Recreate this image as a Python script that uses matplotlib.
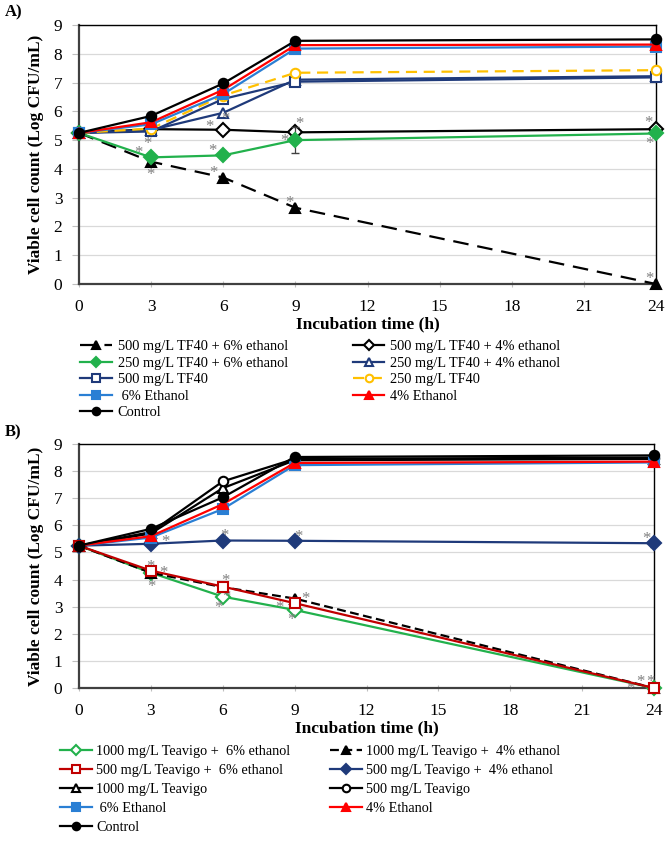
import matplotlib
matplotlib.use("Agg")
import matplotlib.pyplot as plt

plt.rcParams['font.family'] = ['Liberation Serif', 'DejaVu Serif']

# incubation times (h)
hours = [0, 3, 6, 9, 24]

# ---- Panel A: TF40 ----
a_500_6 = [5.25, 4.25, 3.70, 2.65, 0.0]
a_500_4 = [5.25, 5.38, 5.36, 5.27, 5.38]
a_250_6 = [5.25, 4.40, 4.47, 5.00, 5.23]
a_250_4 = [5.25, 5.35, 5.95, 7.10, 7.22]
a_500 = [5.25, 5.30, 6.43, 7.03, 7.18]
a_250 = [5.25, 5.40, 6.55, 7.34, 7.43]
a_eth6 = [5.25, 5.55, 6.60, 8.18, 8.25]
a_eth4 = [5.25, 5.62, 6.75, 8.30, 8.32]
a_ctrl = [5.25, 5.84, 6.97, 8.45, 8.50]
a_250_6_err = [0, 0, 0, 0.46, 0]

a_stars_x = [2.86, 2.48, 2.98, 5.41, 6.10, 5.56, 5.59, 9.15, 8.53, 8.75, 23.68, 23.73, 23.73]
a_stars_y = [4.86, 4.54, 3.78, 5.46, 5.72, 4.63, 3.87, 5.55, 4.98, 2.80, 5.61, 4.85, 0.16]

# ---- Panel B: Teavigo ----
b_1000_6 = [5.25, 4.25, 3.37, 2.88, 0.0]
b_1000_4 = [5.25, 4.25, 3.72, 3.30, 0.0]
b_500_6 = [5.25, 4.33, 3.74, 3.13, 0.0]
b_500_4 = [5.25, 5.32, 5.44, 5.43, 5.34]
b_1000 = [5.25, 5.70, 7.37, 8.40, 8.45]
b_500 = [5.25, 5.75, 7.62, 8.45, 8.50]
b_eth6 = [5.25, 5.55, 6.60, 8.22, 8.32]
b_eth4 = [5.25, 5.60, 6.78, 8.30, 8.35]
b_ctrl = [5.25, 5.87, 7.03, 8.52, 8.58]
b_500_4_err = [0, 0, 0, 0, 0.15]

b_stars_x = [3.59, 2.96, 3.52, 3.03, 6.06, 6.13, 6.16, 5.82, 9.15, 9.43, 8.36, 8.87, 23.69, 23.44, 23.83, 23.0]
b_stars_y = [5.40, 4.48, 4.26, 3.74, 5.62, 3.95, 3.37, 2.94, 5.56, 3.27, 2.94, 2.51, 5.49, 0.23, 0.23, -0.05]

GREEN = '#22b14c'
NAVY = '#1f3a7a'
BLUE = '#2a7fd4'
RED = '#ff0000'
DARKRED = '#c00000'
YELLOW = '#ffc000'

W, H = 672, 863
fig = plt.figure(figsize=(W / 100, H / 100), dpi=100)


def style_axes(ax):
    ax.set_xlim(0, 24)
    ax.set_ylim(0, 9)
    ax.set_xticks(range(0, 25, 3))
    ax.set_yticks(range(0, 10))
    ax.grid(axis='y', color='#d9d9d9', lw=0.9)
    ax.set_axisbelow(True)
    for s in ['top', 'right']:
        ax.spines[s].set_color('black')
        ax.spines[s].set_linewidth(1.0)
    for s in ['left', 'bottom']:
        ax.spines[s].set_color('#404040')
        ax.spines[s].set_linewidth(1.6)
    ax.tick_params(axis='y', length=5, color='#bfbfbf', labelsize=12.5, pad=7)
    ax.tick_params(axis='x', length=4, color='#bfbfbf', labelsize=12.5, pad=9, direction='inout')
    ax.set_xlabel('Incubation time (h)', fontsize=12.5, fontweight='bold', labelpad=1)
    ax.set_ylabel('Viable cell count (Log CFU/mL)', fontsize=12.5, fontweight='bold', labelpad=7)


def series(ax, y, color, marker, label, mfc=None, ls='-', yerr=None, z=3):
    mfc = color if mfc is None else mfc
    if yerr is not None:
        ax.errorbar(hours, y, yerr=yerr, fmt='none', ecolor='#404040', elinewidth=0.9, capsize=3, zorder=z)
    line, = ax.plot(hours, y, color=color, ls=ls, lw=1.6, marker=marker, ms=6.8,
                    mfc=mfc, mec=color, mew=1.5, label=label, zorder=z, clip_on=False)
    return line


# ---------- Panel A ----------
axA = fig.add_axes([79 / W, 1 - 284 / H, 577 / W, 259 / H])
style_axes(axA)
hA = {}
hA['500_6'] = series(axA, a_500_6, 'black', '^', '500 mg/L TF40 + 6% ethanol', ls=(0, (7, 4)))
hA['500_4'] = series(axA, a_500_4, 'black', 'D', '500 mg/L TF40 + 4% ethanol', mfc='white')
hA['250_6'] = series(axA, a_250_6, GREEN, 'D', '250 mg/L TF40 + 6% ethanol', yerr=a_250_6_err)
hA['250_4'] = series(axA, a_250_4, NAVY, '^', '250 mg/L TF40 + 4% ethanol', mfc='white')
hA['500'] = series(axA, a_500, NAVY, 's', '500 mg/L TF40', mfc='white')
hA['250'] = series(axA, a_250, YELLOW, 'o', '250 mg/L TF40', mfc='white', ls=(0, (5, 3)))
hA['eth6'] = series(axA, a_eth6, BLUE, 's', ' 6% Ethanol')
hA['eth4'] = series(axA, a_eth4, RED, '^', '4% Ethanol')
hA['ctrl'] = series(axA, a_ctrl, 'black', 'o', 'Control', z=4)
for x, y in zip(a_stars_x, a_stars_y):
    axA.text(x, y, '*', color='#7f7f7f', fontsize=12, ha='center', va='center', clip_on=False)

orderA = ['500_6', '250_6', '500', 'eth6', 'ctrl', '500_4', '250_4', '250', 'eth4']
legA = fig.legend([hA[k] for k in orderA], [hA[k].get_label() for k in orderA],
                  loc='upper left', bbox_to_anchor=(80 / W, 1 - 340 / H), ncol=2,
                  frameon=False, fontsize=10.4, handlelength=2.2, handletextpad=0.4,
                  labelspacing=0.24, columnspacing=4.5, borderpad=0, borderaxespad=0,
                  markerscale=0.8)

fig.text(5 / W, 1 - 12 / H, 'A)', fontsize=12, fontweight='bold', va='center')

# ---------- Panel B ----------
axB = fig.add_axes([79 / W, 1 - 688 / H, 575 / W, 244 / H])
style_axes(axB)
hB = {}
hB['1000_6'] = series(axB, b_1000_6, GREEN, 'D', '1000 mg/L Teavigo +  6% ethanol', mfc='white')
hB['1000_4'] = series(axB, b_1000_4, 'black', '^', '1000 mg/L Teavigo +  4% ethanol', ls=(0, (4, 2)))
hB['500_6'] = series(axB, b_500_6, DARKRED, 's', '500 mg/L Teavigo +  6% ethanol', mfc='white', z=4)
hB['500_4'] = series(axB, b_500_4, NAVY, 'D', '500 mg/L Teavigo +  4% ethanol', yerr=b_500_4_err)
hB['1000'] = series(axB, b_1000, 'black', '^', '1000 mg/L Teavigo', mfc='white')
hB['500'] = series(axB, b_500, 'black', 'o', '500 mg/L Teavigo', mfc='white')
hB['eth6'] = series(axB, b_eth6, BLUE, 's', ' 6% Ethanol')
hB['eth4'] = series(axB, b_eth4, RED, '^', '4% Ethanol')
hB['ctrl'] = series(axB, b_ctrl, 'black', 'o', 'Control', z=4)
for x, y in zip(b_stars_x, b_stars_y):
    axB.text(x, y, '*', color='#7f7f7f', fontsize=12, ha='center', va='center', clip_on=False)

orderB = ['1000_6', '500_6', '1000', 'eth6', 'ctrl', '1000_4', '500_4', '500', 'eth4']
legB = fig.legend([hB[k] for k in orderB], [hB[k].get_label() for k in orderB],
                  loc='upper left', bbox_to_anchor=(60 / W, 1 - 745 / H), ncol=2,
                  frameon=False, fontsize=10.3, handlelength=2.24, handletextpad=0.28,
                  labelspacing=0.42, columnspacing=2.8, borderpad=0, borderaxespad=0,
                  markerscale=0.8)

fig.text(5 / W, 1 - 432 / H, 'B)', fontsize=12, fontweight='bold', va='center')

fig.savefig('out.png', dpi=100)
